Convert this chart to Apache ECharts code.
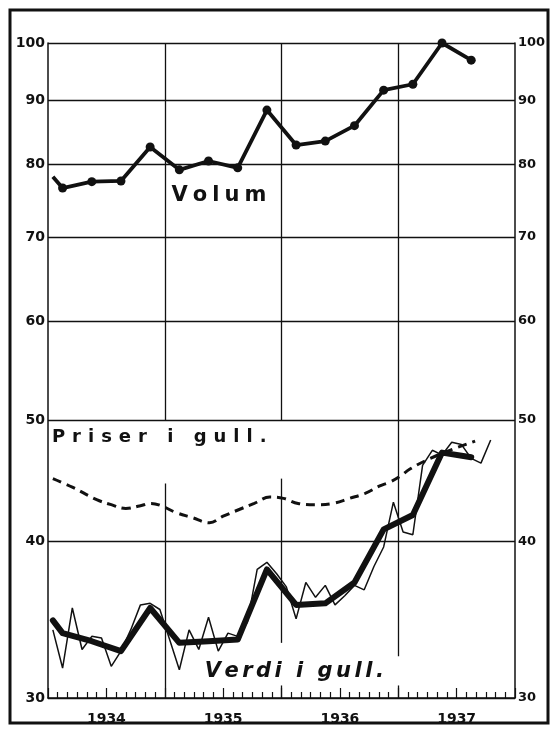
<!DOCTYPE html>
<html><head><meta charset="utf-8">
<script src="https://cdn.jsdelivr.net/npm/echarts@6/dist/echarts.min.js"></script>
<style>html,body{margin:0;padding:0;background:#fff}#c{width:553px;height:733px}</style>
</head><body><div id="c"></div>
<script>
// x values are months counted from 1 January 1934
const yearLabels = ['1934', '1935', '1936', '1937'];
const yTicks = [30, 40, 50, 60, 70, 80, 90, 100];

const quarterMonths = [0.5, 1.5, 4.5, 7.5, 10.5, 13.5, 16.5, 19.5, 22.5, 25.5, 28.5, 31.5, 34.5, 37.5, 40.5, 43.5];
const volumValues   = [78.2, 76.6, 77.5, 77.6, 82.6, 79.2, 80.5, 79.5, 88.4, 82.9, 83.5, 85.9, 91.7, 92.7, 100, 96.9];
const verdiQuarter  = [34.6, 33.8, 33.3, 32.7, 35.4, 33.2, 33.3, 33.4, 38.0, 35.6, 35.7, 37.1, 40.9, 42.0, 47.1, 46.7];

const verdiMonthly = [34.0, 31.7, 35.4, 32.8, 33.6, 33.5, 31.8, 32.7, 34.0, 35.6, 35.7, 35.3,
                      33.4, 31.6, 34.0, 32.8, 34.8, 32.7, 33.8, 33.6, 34.5, 38.0, 38.5, 37.7,
                      36.8, 34.7, 37.1, 36.1, 36.9, 35.6, 36.2, 36.9, 36.6, 38.2, 39.6, 43.0,
                      40.7, 40.5, 46.0, 47.3, 46.9, 48.0, 47.8, 46.6, 46.2, 48.2];

const priserMonths = [0.5, 2.5, 5.0, 6.5, 8.0, 9.4, 10.6, 11.7, 13.1, 14.8, 16.6, 18.0, 19.9, 21.2,
                      22.8, 24.2, 25.7, 27.6, 29.3, 31.0, 32.6, 34.1, 35.1, 36.2, 37.2, 39.3, 41.3, 43.9];
const priserValues = [44.9, 44.2, 43.2, 42.8, 42.5, 42.7, 42.9, 42.7, 42.2, 41.8, 41.4, 41.9, 42.5, 42.9,
                      43.4, 43.3, 42.9, 42.8, 42.9, 43.3, 43.7, 44.3, 44.6, 45.1, 45.7, 46.6, 47.3, 48.1];

const INK = '#111';
const FONT = 'DejaVu Sans';

// extra spacing between letters of the hand-lettered captions (left-aligned texts)
const spacing = {'Volum': 5, 'Priser i gull.': 7, 'Verdi i gull.': 3.5};
(function () {
  const P = CanvasRenderingContext2D.prototype;
  const orig = P.fillText;
  P.fillText = function (text, x, y, w) {
    const s = spacing[text];
    if (s !== undefined && this.textAlign === 'left') {
      let cx = x;
      for (const ch of text) {
        orig.call(this, ch, cx, y);
        cx += this.measureText(ch).width + s;
      }
      return;
    }
    return w === undefined ? orig.call(this, text, x, y) : orig.call(this, text, x, y, w);
  };
})();

const chart = echarts.init(document.getElementById('c'), null, {renderer: 'canvas'});

const volumData = quarterMonths.map((m, i) => i === 0 ? {value: [m, volumValues[i]], symbol: 'none'} : [m, volumValues[i]]);
const verdiQData = quarterMonths.map((m, i) => [m, verdiQuarter[i]]);
const verdiMData = verdiMonthly.map((v, i) => [i + 0.5, v]);
const priserData = priserMonths.map((m, i) => [m, priserValues[i]]);

const yAxisBase = {
  type: 'log', logBase: 10, min: 30, max: 100,
  axisLine: {show: true, lineStyle: {color: INK, width: 1.5}},
  axisTick: {show: false, customValues: yTicks},
  axisLabel: {customValues: yTicks, color: INK, fontFamily: FONT, fontWeight: 'bold', fontSize: 14},
  splitLine: {show: false}
};

chart.setOption({
  animation: false,
  backgroundColor: '#fff',
  grid: {left: 48, right: 38, top: 43, bottom: 35, containLabel: false},
  xAxis: {
    type: 'value', min: 0, max: 48, interval: 6,
    axisLine: {show: true, onZero: false, lineStyle: {color: INK, width: 1.5}},
    axisTick: {show: true, inside: true, length: 10, lineStyle: {color: INK, width: 1.2}},
    minorTick: {show: true, splitNumber: 6, length: 6, lineStyle: {color: INK, width: 1.2}},
    axisLabel: {
      color: INK, fontFamily: FONT, fontWeight: 'bold', fontSize: 14, margin: 14,
      formatter: v => (v % 12 === 6 ? yearLabels[(v - 6) / 12] : '')
    },
    splitLine: {show: false}
  },
  yAxis: [
    Object.assign({}, yAxisBase, {position: 'left', splitLine: {show: true, lineStyle: {color: INK, width: 1.3}},
      axisLabel: Object.assign({}, yAxisBase.axisLabel, {margin: 3})}),
    Object.assign({}, yAxisBase, {position: 'right', axisLabel: Object.assign({}, yAxisBase.axisLabel, {margin: 3, fontSize: 13})})
  ],
  series: [
    {
      type: 'line', name: 'grid', data: [], silent: true,
      markLine: {
        silent: true, symbol: 'none', label: {show: false},
        lineStyle: {color: INK, width: 1.3, type: 'solid'},
        data: [
          [{coord: [12, 100]}, {coord: [12, 50]}],
          [{coord: [12, 44.5]}, {coord: [12, 30]}],
          [{coord: [24, 100]}, {coord: [24, 50]}],
          [{coord: [24, 44.9]}, {coord: [24, 33.2]}],
          [{coord: [36, 100]}, {coord: [36, 32.4]}],
          [{coord: [24, 30]}, {coord: [24, 30.7]}],
          [{coord: [36, 30]}, {coord: [36, 30.7]}]
        ]
      }
    },
    {
      type: 'line', name: 'Volum', data: volumData,
      symbol: 'circle', symbolSize: 9,
      itemStyle: {color: INK},
      lineStyle: {color: INK, width: 3.8}
    },
    {
      type: 'line', name: 'Priser i gull', data: priserData, smooth: 0.4,
      symbol: 'none',
      lineStyle: {color: INK, width: 3, type: [9, 6]}
    },
    {
      type: 'line', name: 'Verdi i gull (måned)', data: verdiMData,
      symbol: 'none',
      lineStyle: {color: INK, width: 1.5}
    },
    {
      type: 'line', name: 'Verdi i gull', data: verdiQData,
      symbol: 'none',
      lineStyle: {color: INK, width: 6, join: 'round', cap: 'round'}
    }
  ]
});

function px(p) { return chart.convertToPixel({gridIndex: 0}, p); }
const pVol = px([12.7, 75.6]);
const pPri = px([0.4, 48.45]);
const pVer = px([16.1, 31.5]);

chart.setOption({
  graphic: [
    {type: 'rect', shape: {x: 10, y: 10, width: 538, height: 713}, style: {fill: 'none', stroke: INK, lineWidth: 3}, silent: true},
    {type: 'text', x: pVol[0], y: pVol[1], style: {text: 'Volum', fill: INK, font: 'bold 21px "DejaVu Sans"', textAlign: 'left', textVerticalAlign: 'middle'}},
    {type: 'text', x: pPri[0], y: pPri[1], style: {text: 'Priser i gull.', fill: INK, font: 'bold 18px "DejaVu Sans"', textAlign: 'left', textVerticalAlign: 'middle'}},
    {type: 'text', x: pVer[0], y: pVer[1], style: {text: 'Verdi i gull.', fill: INK, font: 'bold italic 21px "DejaVu Sans"', textAlign: 'left', textVerticalAlign: 'middle'}}
  ]
});
</script>
</body></html>
